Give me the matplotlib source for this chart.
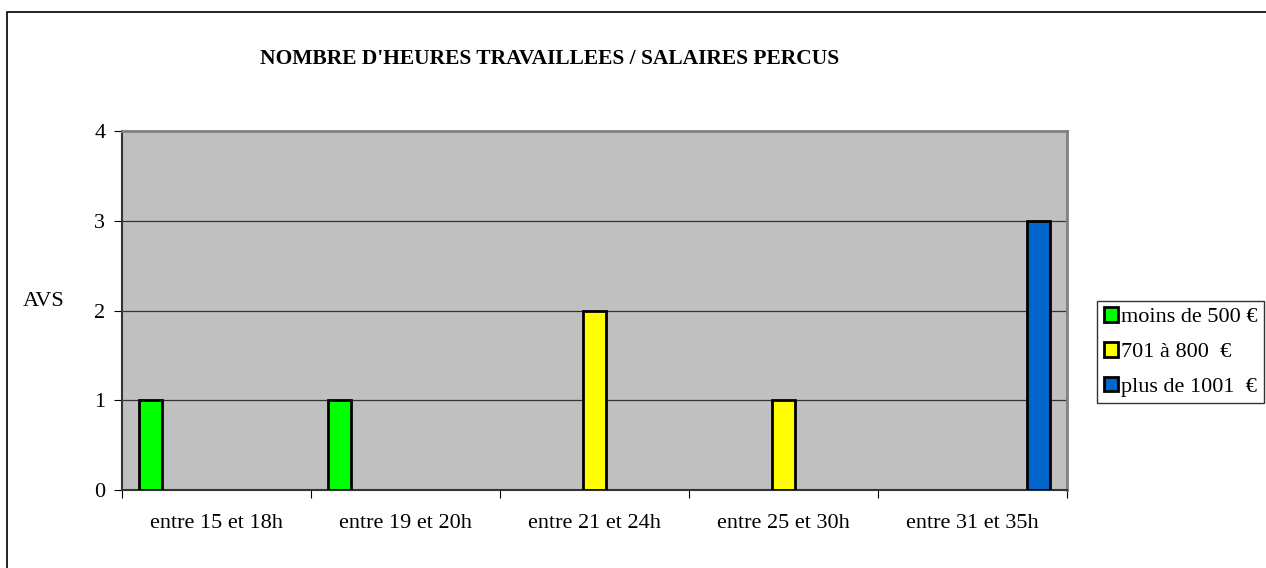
import numpy as np
import matplotlib.pyplot as plt
from matplotlib.patches import Rectangle

categories = ["entre 15 et 18h", "entre 19 et 20h", "entre 21 et 24h",
              "entre 25 et 30h", "entre 31 et 35h"]
series_names = ["moins de 500 €", "701 à 800  €", "plus de 1001  €"]
moins_500 = [1, 1, 0, 0, 0]
de_701_800 = [0, 0, 2, 1, 0]
plus_1001 = [0, 0, 0, 0, 3]
yticks = [0, 1, 2, 3, 4]

colors = ["#00FF00", "#FFFF00", "#0066CC"]
plt.rcParams['font.family'] = ['Liberation Serif', 'DejaVu Serif']

fig = plt.figure(figsize=(12.66, 5.68), dpi=100)
ax = fig.add_axes([0.0964, 0.1373, 0.7464, 0.6320])
ax.set_facecolor("#C0C0C0")

x = np.arange(len(categories))
offsets = [-0.35, 0.0, 0.35]
width = 0.122
for vals, off, col, name in zip([moins_500, de_701_800, plus_1001], offsets, colors, series_names):
    vals = np.array(vals, dtype=float)
    vals[vals == 0] = np.nan
    ax.bar(x + off, vals, width=width, color=col, edgecolor="black",
           linewidth=2, label=name, zorder=3)

ax.set_xlim(-0.5, len(categories) - 0.5)
ax.set_ylim(0, 4)
ax.set_yticks(yticks)
ax.set_yticklabels([str(v) for v in yticks], fontsize=16)
ax.set_xticks(np.arange(len(categories) + 1) - 0.5, minor=False)
ax.set_xticklabels([])
ax.set_xticks(x, minor=True)
ax.set_xticklabels(categories, minor=True, fontsize=16)
ax.tick_params(axis='x', which='minor', length=0, pad=17)
ax.tick_params(axis='x', which='major', length=6, direction='out', color='black')
ax.tick_params(axis='y', length=6, direction='out', color='black', pad=6)

ax.yaxis.grid(True, color="#333333", linewidth=0.9, zorder=1)
ax.set_axisbelow(True)
ax.spines['top'].set_color("#808080")
ax.spines['right'].set_color("#808080")
ax.spines['top'].set_linewidth(2)
ax.spines['right'].set_linewidth(2)
ax.spines['left'].set_color("#333333")
ax.spines['bottom'].set_color("#333333")
ax.spines['left'].set_linewidth(1.5)
ax.spines['bottom'].set_linewidth(1.5)

fig.text(44 / 1266, 1 - 302 / 568, "AVS", fontsize=16, ha='center', va='center')
fig.text(550 / 1266, 1 - 59 / 568, "NOMBRE D'HEURES TRAVAILLEES / SALAIRES PERCUS",
         fontsize=15.5, fontweight='bold', ha='center', va='center')

leg = fig.legend(loc='center left', bbox_to_anchor=(1097 / 1266, 1 - 352 / 568),
                 fontsize=16, frameon=True, fancybox=False, edgecolor='black',
                 handlelength=0.65, handleheight=0.65, handletextpad=0.12,
                 borderpad=0.3, labelspacing=0.65, borderaxespad=0)
leg.get_frame().set_linewidth(1)

fig.patches.append(Rectangle((7 / 1266, -0.1), 1.2, 1 - 12 / 568 + 0.1,
                             transform=fig.transFigure, fill=False,
                             edgecolor='black', linewidth=1.2))

fig.savefig("out.png", dpi=100)
